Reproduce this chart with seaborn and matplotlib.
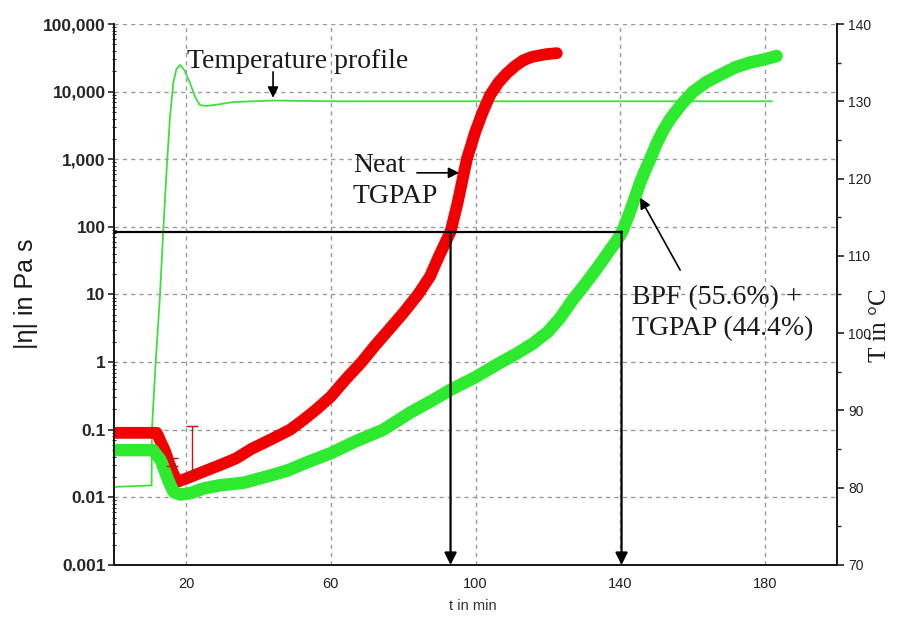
import seaborn as sns
import matplotlib
matplotlib.use('Agg')
import matplotlib.pyplot as plt
from matplotlib.ticker import FixedLocator, FuncFormatter, LogLocator, MultipleLocator, NullFormatter


# viscosity of neat TGPAP, |eta| in Pa s
neat_t = [0, 5, 11.8, 14, 16, 17.5, 20, 24.7, 30, 33.9, 38, 43.2, 48.7, 52.4, 56, 60,
          64, 68.5, 72, 76, 80, 84.1, 87.4, 90, 93.1, 95, 97.6, 100, 102, 104, 106.3,
          108.6, 111, 113.2, 115.5, 117.9, 120, 122.5]
neat_eta = [0.09, 0.09, 0.09, 0.05, 0.025, 0.017, 0.019, 0.024, 0.031, 0.038, 0.052,
            0.071, 0.1, 0.14, 0.2, 0.31, 0.55, 1.0, 1.7, 3.0, 5.3, 10, 18.4, 38, 85,
            220, 1000, 2600, 5000, 8800, 13500, 18500, 24000, 29000, 32500, 34500,
            36000, 37000]

# viscosity of BPF (55.6%) + TGPAP (44.4%)
bpf_t = [0, 5, 10.8, 13, 15, 16.5, 18.3, 21, 24.7, 29, 36, 43.2, 48, 53.4, 60, 67,
         74.5, 82, 88, 93.1, 100, 106.8, 111, 116, 120, 123.4, 127, 130, 132.6, 135,
         137.2, 139, 140.6, 142.3, 144, 145.5, 147, 148.3, 150.1, 151.8, 153.8, 157,
         160.2, 164, 168.6, 172, 176, 180, 183.3]
bpf_eta = [0.05, 0.05, 0.05, 0.035, 0.018, 0.012, 0.011, 0.0115, 0.0135, 0.015, 0.0165,
           0.021, 0.025, 0.033, 0.045, 0.068, 0.1, 0.18, 0.27, 0.39, 0.6, 0.98, 1.3, 1.9,
           2.8, 4.5, 8.5, 13.5, 20.6, 31, 45.6, 62, 85, 145, 260, 446, 700, 1000, 1700,
           2600, 3900, 6500, 10000, 14000, 18700, 23000, 27000, 30000, 33600]

# temperature profile, right axis
temp_t = [0, 10.4, 10.5, 11.5, 12.7, 13.6, 14.6, 15.5, 16.4, 17.3, 18.3, 19.5, 21, 22.5,
          23.8, 25.6, 29, 32.9, 44, 60, 100, 140, 182]
temp_c = [80.1, 80.3, 87.5, 96, 104.7, 113, 121.5, 128, 132.4, 134.2, 134.7, 134, 132.4,
          130.5, 129.5, 129.4, 129.6, 129.9, 130.1, 130, 130, 130, 130]

# small red error marks near the start
err_t = [16.0, 21.5]
err_eta = [0.032, 0.023]
err_lo = [0.003, 0.0]
err_up = [0.006, 0.089]

# gel point construction
gel_eta = 85
gel_t = [93.1, 140.4]

x_major = [20, 60, 100, 140, 180]
x_minor = [40, 80, 120, 160]

RED = '#f00000'
GREEN = '#2eea2e'

sns.set_style('white')
plt.rcParams['font.family'] = ['Liberation Sans', 'DejaVu Sans']

fig = plt.figure(figsize=(9.2, 6.17), dpi=100)
ax = fig.add_axes([0.1239, 0.0843, 0.7859, 0.8768])
ax2 = ax.twinx()
ax.set_zorder(ax2.get_zorder() + 1)
ax.patch.set_visible(False)

# temperature on the right axis
sns.lineplot(x=temp_t, y=temp_c, ax=ax2, color='#3de03d', linewidth=1.3)
ax2.set_ylim(70, 140)
ax2.set_xlim(0, 200)
ax2.yaxis.set_major_locator(MultipleLocator(10))
ax2.yaxis.set_minor_locator(MultipleLocator(5))
ax2.tick_params(axis='y', which='major', direction='out', length=5, width=1.2,
                labelsize=10, colors='#222222', pad=3)
ax2.tick_params(axis='y', which='minor', direction='out', length=3, width=1)
ax2.set_ylabel('')

# viscosity curves
sns.lineplot(x=neat_t, y=neat_eta, ax=ax, color=RED, linewidth=8.5)
sns.lineplot(x=bpf_t, y=bpf_eta, ax=ax, color=GREEN, linewidth=9)
ax.errorbar(err_t, err_eta, yerr=[err_lo, err_up], fmt='none', ecolor='#d01010',
            elinewidth=1, capsize=4.5, capthick=1)

ax.set_yscale('log')
ax.set_ylim(1e-3, 1e5)
ax.set_xlim(0, 200)
ax.xaxis.set_major_locator(FixedLocator(x_major))
ax.xaxis.set_minor_locator(FixedLocator(x_minor))
ax.yaxis.set_major_locator(FixedLocator([10.0 ** k for k in range(-3, 6)]))
ax.yaxis.set_minor_locator(LogLocator(base=10, subs=range(2, 10), numticks=12))
ax.yaxis.set_minor_formatter(NullFormatter())


def eta_fmt(v, pos):
    if v >= 1:
        return f'{int(round(v)):,}'
    return f'{v:g}'


ax.yaxis.set_major_formatter(FuncFormatter(eta_fmt))
ax.tick_params(axis='y', which='major', direction='out', length=4, width=1.2,
               labelsize=12.5, pad=2)
ax.tick_params(axis='y', which='minor', direction='inout', length=3, width=0.8)
for lab in ax.get_yticklabels():
    lab.set_fontweight('bold')
ax.tick_params(axis='x', which='major', direction='out', length=5, width=1.2,
               labelsize=10.5, colors='#222222', pad=4)
ax.tick_params(axis='x', which='minor', direction='out', length=5, width=1.2)
ax.set_xlabel('')
ax.set_ylabel('')

ax.grid(True, which='major', axis='both', color='#9a9a9a', linestyle=(0, (3, 3)), linewidth=1)
ax2.grid(False)

for a in (ax, ax2):
    a.spines['top'].set_visible(False)
    for s in ('left', 'right', 'bottom'):
        a.spines[s].set_color('#1a1a1a')
        a.spines[s].set_linewidth(1.4)

# gel point lines
ax.plot([0, gel_t[1]], [gel_eta, gel_eta], color='black', linewidth=1.6, zorder=5)
for gt in gel_t:
    ax.annotate('', xy=(gt, 1e-3), xytext=(gt, gel_eta), annotation_clip=False,
                arrowprops=dict(arrowstyle='-|>', color='black', lw=1.6,
                                mutation_scale=18, shrinkA=0, shrinkB=0), zorder=5)

serif = ['Liberation Serif', 'DejaVu Serif']
arrow_kw = dict(arrowstyle='-|>', color='black', lw=1.2, mutation_scale=16,
                shrinkA=0, shrinkB=0)

ax.text(20.3, 2.75e4, 'Temperature profile', family=serif, fontsize=20,
        ha='left', va='center', color='#1a1a1a')
ax.annotate('', xy=(44, 8.1e3), xytext=(44, 1.96e4), arrowprops=arrow_kw)

ax.text(66.1, 480, 'Neat\nTGPAP', family=serif, fontsize=20, ha='left',
        va='center', linespacing=1.32, color='#1a1a1a')
ax.annotate('', xy=(95.5, 630), xytext=(83.8, 630), arrowprops=arrow_kw)

ax.text(143.3, 5.25, 'BPF (55.6%) +\nTGPAP (44.4%)', family=serif, fontsize=20,
        ha='left', va='center', linespacing=1.32, color='#1a1a1a')
ax.annotate('', xy=(145.5, 270), xytext=(156.6, 23), arrowprops=arrow_kw)

fig.text(26 / 920, 1 - 294 / 617, '|η| in Pa s', rotation=90, ha='center', va='center',
         fontsize=18, color='#1a1a1a')
fig.text(880 / 920, 1 - 325 / 617, 'T in °C', rotation=90, ha='center', va='center',
         fontsize=18, family=serif, color='#1a1a1a')
fig.text(473 / 920, 1 - 606 / 617, 't in min', ha='center', va='center',
         fontsize=10.5, color='#333333')

fig.savefig('out.png', dpi=100)
